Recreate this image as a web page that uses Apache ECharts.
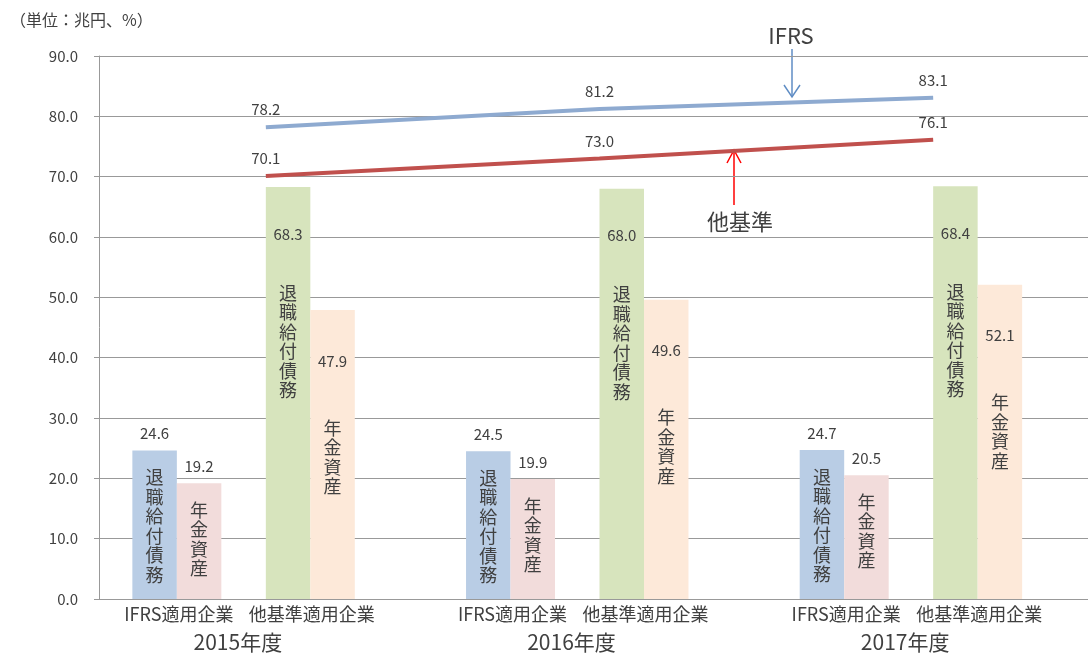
<!DOCTYPE html>
<html>
<head>
<meta charset="utf-8">
<script src="https://cdn.jsdelivr.net/npm/echarts@6/dist/echarts.min.js"></script>
<style>
  html, body { margin: 0; padding: 0; background: #fff; }
  #chart { width: 1088px; height: 654px; }
</style>
</head>
<body>
<div id="chart"></div>
<script>
// Fiscal years and the two company groups shown under each year
const years = ['2015年度', '2016年度', '2017年度'];
const groups = ['IFRS適用企業', '他基準適用企業'];

// Retirement benefit obligations and plan assets (trillion yen)
const ifrsObligation = [24.6, 24.5, 24.7];
const ifrsAssets = [19.2, 19.9, 20.5];
const otherObligation = [68.3, 68.0, 68.4];
const otherAssets = [47.9, 49.6, 52.1];

// Funded ratio (%)
const ifrsRatio = [78.2, 81.2, 83.1];
const otherRatio = [70.1, 73.0, 76.1];

const yTicks = { min: 0, max: 90, interval: 10 };

const obligationText = '退職給付債務';
const assetsText = '年金資産';
const unitText = '（単位：兆円、%）';
const ifrsTag = 'IFRS';
const otherTag = '他基準';

const TXT = '#404040';
const FONT = '"Noto Sans CJK JP", "Noto Sans", sans-serif';

function vertical(str) {
  return str.split('').map(c => '{t|' + c + '}').join('\n');
}

// Value on the first line, a blank spacer line, then the series name written downwards
function barLabel(text, offsetY, gapName) {
  return {
    show: true,
    position: 'insideTop',
    distance: 0,
    offset: [0, offsetY],
    formatter: p => '{v|' + p.value.toFixed(1) + '}\n{' + gapName + '| }\n' + vertical(text),
    rich: {
      v: { fontFamily: FONT, fontSize: 15, color: TXT, lineHeight: 20 },
      gs: { fontSize: 1, lineHeight: 24 },
      gm: { fontSize: 1, lineHeight: 39 },
      gl: { fontSize: 1, lineHeight: 47 },
      t: { fontFamily: FONT, fontSize: 18, color: TXT, lineHeight: 19.5 }
    }
  };
}

function barSeries(name, data, color, label) {
  return {
    name: name,
    type: 'bar',
    data: data,
    barGap: '0%',
    barCategoryGap: '20%',
    itemStyle: { color: color },
    label: label,
    silent: true
  };
}

function spacer(name) {
  return { name: name, type: 'bar', data: years.map(() => '-'), barGap: '0%', barCategoryGap: '20%', silent: true };
}

function lineSeries(name, data, color) {
  return {
    name: name,
    type: 'line',
    data: data,
    symbol: 'circle',
    symbolSize: 0.01,
    showSymbol: true,
    lineStyle: { color: color, width: 4 },
    itemStyle: { color: color },
    label: {
      show: true,
      position: 'top',
      distance: 10,
      color: TXT,
      fontFamily: FONT,
      fontSize: 15,
      formatter: p => p.value.toFixed(1)
    },
    labelLayout: { hideOverlap: false },
    silent: true,
    z: 5
  };
}

const chart = echarts.init(document.getElementById('chart'), null, { renderer: 'canvas' });

chart.setOption({
  animation: false,
  backgroundColor: '#fff',
  textStyle: { fontFamily: FONT },
  // plot area runs a little past the right edge of the canvas
  grid: { left: 99, top: 56, bottom: 55, right: -12, containLabel: false, outerBoundsMode: 'none' },
  xAxis: [
    {
      type: 'category',
      data: years,
      axisLine: { lineStyle: { color: '#999', width: 1 } },
      axisTick: { show: false },
      axisLabel: {
        margin: 6,
        formatter: () => '{a|' + groups[0] + '}{b|' + groups[1] + '}{s|}',
        rich: {
          a: { width: 133, align: 'center', fontFamily: FONT, fontSize: 18, color: TXT },
          b: { width: 133, align: 'center', fontFamily: FONT, fontSize: 18, color: TXT },
          s: { width: 41 }
        }
      }
    },
    {
      type: 'category',
      data: years,
      position: 'bottom',
      offset: 25,
      axisLine: { show: false },
      axisTick: { show: false },
      axisLabel: {
        formatter: v => '{y|' + v + '}{s|}',
        rich: {
          y: { width: 150, align: 'center', fontFamily: FONT, fontSize: 21, color: TXT },
          s: { width: 56 }
        }
      }
    }
  ],
  yAxis: {
    type: 'value',
    min: yTicks.min,
    max: yTicks.max,
    interval: yTicks.interval,
    axisLine: { show: true, lineStyle: { color: '#999' } },
    axisTick: { show: true, length: 5, lineStyle: { color: '#999' } },
    splitLine: { lineStyle: { color: '#999', width: 1 } },
    axisLabel: {
      margin: 21,
      color: TXT,
      fontFamily: FONT,
      fontSize: 15,
      formatter: v => v.toFixed(1)
    }
  },
  series: [
    barSeries('IFRS 退職給付債務', ifrsObligation, '#b9cde5', barLabel(obligationText, -27, 'gs')),
    barSeries('IFRS 年金資産', ifrsAssets, '#f2dcdb', barLabel(assetsText, -27, 'gs')),
    spacer('gap-a'),
    barSeries('他基準 退職給付債務', otherObligation, '#d7e4bd', barLabel(obligationText, 37, 'gm')),
    barSeries('他基準 年金資産', otherAssets, '#fde9d9', barLabel(assetsText, 41, 'gl')),
    spacer('gap-b'),
    lineSeries('IFRS', ifrsRatio, '#8eaad0'),
    lineSeries('他基準', otherRatio, '#c0504d')
  ],
  graphic: [
    { type: 'text', left: 10, top: 12, style: { text: unitText, fill: TXT, font: '16px ' + FONT } },
    { type: 'text', x: 791, y: 36, style: { text: ifrsTag, fill: TXT, font: '22px ' + FONT, align: 'center', verticalAlign: 'middle' } },
    { type: 'polyline', shape: { points: [[792, 49], [792, 97]] }, style: { stroke: '#5f8dc4', lineWidth: 1.5 } },
    { type: 'polyline', shape: { points: [[784, 85], [792, 97], [800, 85]] }, style: { stroke: '#5f8dc4', lineWidth: 1.5, fill: null } },
    { type: 'text', x: 740, y: 222, style: { text: otherTag, fill: TXT, font: '22px ' + FONT, align: 'center', verticalAlign: 'middle' } },
    { type: 'polyline', shape: { points: [[734, 205], [734, 150]] }, style: { stroke: '#ff0000', lineWidth: 1.5 } },
    { type: 'polyline', shape: { points: [[727, 163], [734, 150], [741, 163]] }, style: { stroke: '#ff0000', lineWidth: 1.5, fill: null } }
  ]
});
</script>
</body>
</html>
